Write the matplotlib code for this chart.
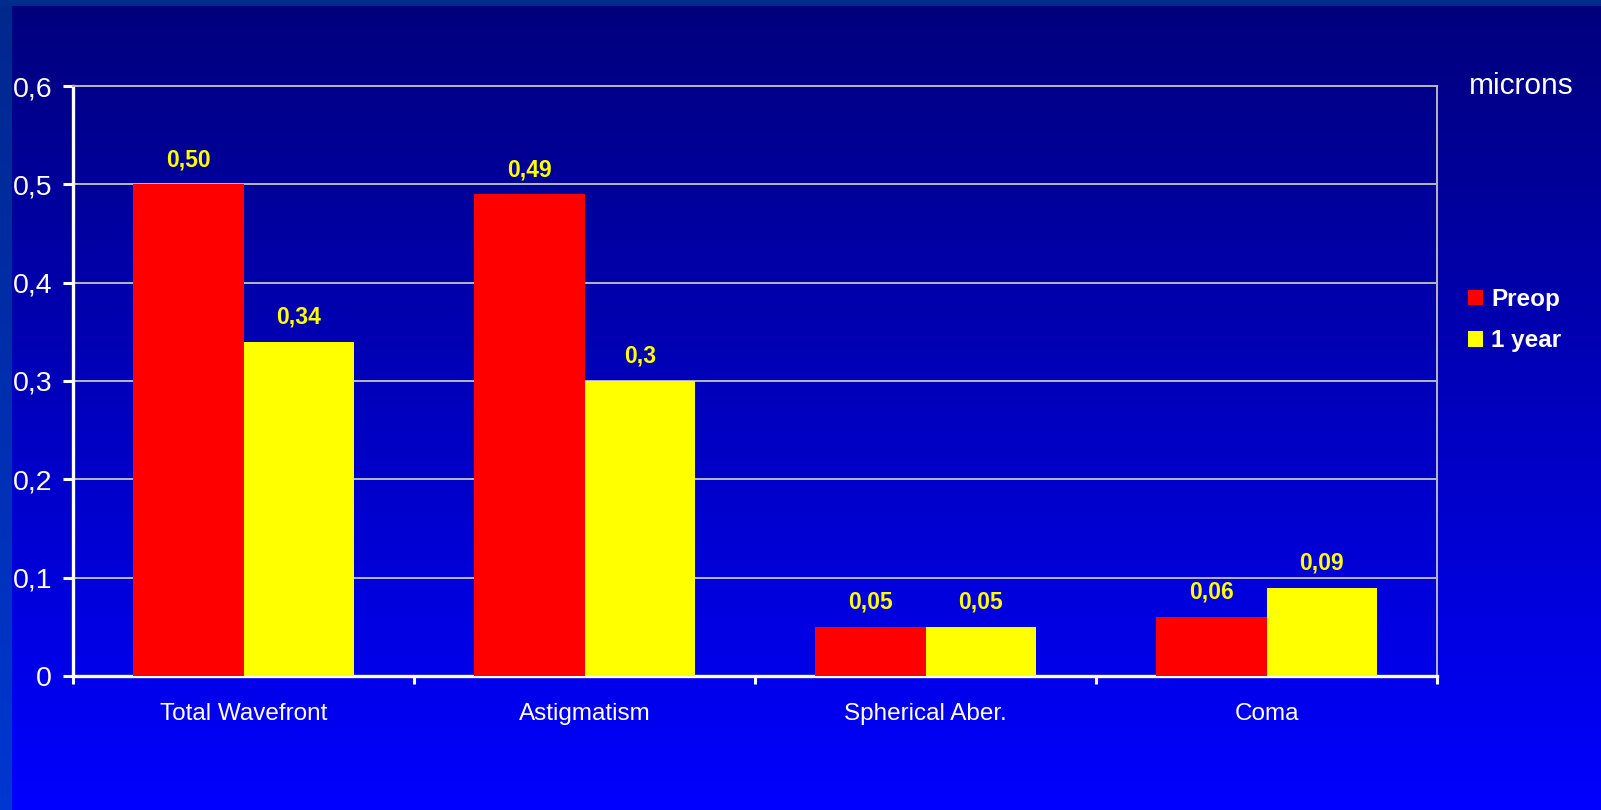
import numpy as np
import matplotlib
matplotlib.use("Agg")
import matplotlib.pyplot as plt
from matplotlib.ticker import FuncFormatter, FixedLocator
from matplotlib.colors import LinearSegmentedColormap

plt.rcParams['font.family'] = ['Liberation Sans', 'DejaVu Sans']

# ---- data ----
categories = ["Total Wavefront", "Astigmatism", "Spherical Aber.", "Coma"]
series_names = ["Preop", "1 year"]
preop_labels = ["0,50", "0,49", "0,05", "0,06"]
year_labels = ["0,34", "0,3", "0,05", "0,09"]
preop_values = [float(s.replace(",", ".")) for s in preop_labels]
year_values = [float(s.replace(",", ".")) for s in year_labels]
y_ticks = [0, 0.1, 0.2, 0.3, 0.4, 0.5, 0.6]
unit_label = "microns"

W, H, DPI = 1601, 810, 100
fig = plt.figure(figsize=(W / DPI, H / DPI), dpi=DPI)

# ---- slide background: vertical navy-to-blue gradient with a lighter frame ----
bg = fig.add_axes([0, 0, 1, 1], zorder=-10)
bg.set_axis_off()
grad = np.linspace(0, 1, 512).reshape(-1, 1)
cmap_bg = LinearSegmentedColormap.from_list("bg", ["#00007c", "#0000ff"])
bg.imshow(grad, aspect="auto", cmap=cmap_bg, extent=[0, W, H, 0], interpolation="bilinear")
cmap_strip = LinearSegmentedColormap.from_list("strip", ["#00288c", "#0037d2"])
bg.imshow(grad, aspect="auto", cmap=cmap_strip, extent=[0, 12, H, 0], interpolation="bilinear")
bg.fill_between([0, W], 0, 6, color="#002c8e", lw=0)
bg.set_xlim(0, W)
bg.set_ylim(H, 0)

# ---- chart ----
ax = fig.add_axes([73 / W, 134 / H, (1437 - 73) / W, (676 - 86) / H])
ax.set_facecolor("none")

x = np.arange(len(categories))
bw = 0.325
b1 = ax.bar(x - bw / 2, preop_values, bw, color="#ff0000", label=series_names[0], zorder=3)
b2 = ax.bar(x + bw / 2, year_values, bw, color="#ffff00", label=series_names[1], zorder=3)

for bars, labels in ((b1, preop_labels), (b2, year_labels)):
    for rect, lab in zip(bars, labels):
        ax.annotate(lab, (rect.get_x() + rect.get_width() / 2, rect.get_height()),
                    xytext=(0, 13), textcoords="offset points", ha="center", va="baseline",
                    color="#ffff00", fontsize=16.5, fontweight="bold", zorder=4)

ax.set_xlim(-0.5, len(categories) - 0.5)
ax.set_ylim(0, 0.6)

# y axis
ax.yaxis.set_major_locator(FixedLocator(y_ticks))
ax.yaxis.set_major_formatter(FuncFormatter(lambda v, p: "0" if abs(v) < 1e-9 else f"{v:.1f}".replace(".", ",")))
ax.tick_params(axis="y", direction="out", length=7, width=2.2, color="white",
               labelcolor="white", labelsize=20.5, pad=8)
ax.grid(axis="y", color="#b8b8b8", lw=1.4, zorder=1)

# x axis: marks at category boundaries, labels at category centres
ax.xaxis.set_major_locator(FixedLocator(np.arange(len(categories) + 1) - 0.5))
ax.xaxis.set_major_formatter(FuncFormatter(lambda v, p: ""))
ax.xaxis.set_minor_locator(FixedLocator(x))
ax.set_xticks(x, categories, minor=True)
ax.tick_params(axis="x", which="major", direction="out", length=6, width=2.2, color="white")
ax.tick_params(axis="x", which="minor", length=0, labelcolor="white", labelsize=17.5, pad=19.5)

for side in ("left", "bottom"):
    ax.spines[side].set_color("white")
    ax.spines[side].set_linewidth(2.4)
for side in ("top", "right"):
    ax.spines[side].set_color("#b8b8b8")
    ax.spines[side].set_linewidth(1.4)

# unit note and legend
fig.text(1469 / W, (H - 94) / H, unit_label, color="white", fontsize=21.5,
         ha="left", va="baseline")

leg = fig.legend(handles=[b1, b2], labels=series_names, loc="upper left",
                 bbox_to_anchor=(1456 / W, (H - 276) / H), frameon=False,
                 borderpad=0, handlelength=0.62, handleheight=0.62,
                 handletextpad=0.32, labelspacing=0.75,
                 prop={"size": 17.5, "weight": "bold"})
for t in leg.get_texts():
    t.set_color("white")

fig.savefig("out.png", dpi=DPI)
